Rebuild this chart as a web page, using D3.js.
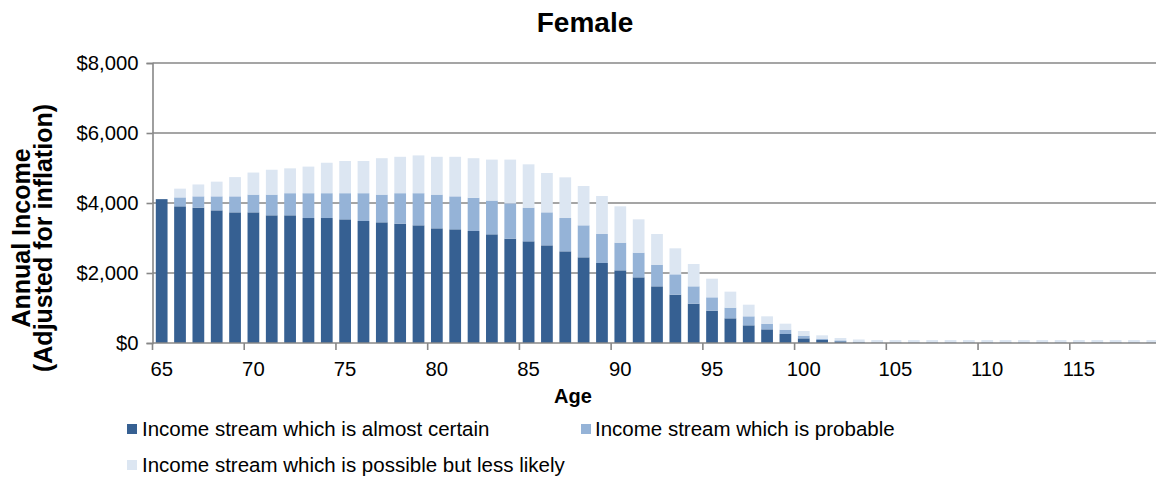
<!DOCTYPE html>
<html>
<head>
<meta charset="utf-8">
<script src="https://cdn.jsdelivr.net/npm/d3@7/dist/d3.min.js"></script>
<style>
  html, body { margin: 0; padding: 0; background: #fff; }
  svg { display: block; font-family: "Liberation Sans", Arial, sans-serif; }
</style>
</head>
<body>
<svg id="chart" width="1156" height="477"></svg>
<script>
// Ages shown on the category axis (65 .. 119)
const ages = d3.range(65, 120);

// Annual income by age, in dollars, for each stream (stacked bottom to top)
const almostCertain = [
  4110, 3905, 3867, 3790, 3733, 3733, 3648, 3648, 3571, 3571,
  3533, 3486, 3448, 3410, 3362, 3276, 3248, 3200, 3105, 2981,
  2905, 2790, 2619, 2448, 2286, 2076, 1876, 1619, 1381, 1124,
  924, 705, 505, 390, 257, 133, 86, 48, 15, 0,
  0, 0, 0, 0, 0, 0, 0, 0, 0, 0,
  0, 0, 0, 0, 0
];
const probable = [
  0, 255, 323, 400, 457, 507, 592, 632, 709, 709,
  747, 794, 792, 870, 918, 964, 942, 950, 965, 1009,
  962, 943, 952, 914, 828, 791, 705, 619, 581, 495,
  381, 305, 257, 162, 124, 77, 38, 28, 25, 20,
  20, 20, 20, 20, 20, 20, 20, 20, 20, 20,
  20, 20, 20, 20, 20
];
const possible = [
  0, 250, 340, 420, 550, 630, 710, 710, 760, 870,
  920, 920, 1040, 1040, 1080, 1080, 1130, 1130, 1170, 1250,
  1238, 1124, 1162, 1124, 1086, 1038, 952, 876, 743, 638,
  533, 457, 333, 210, 171, 133, 95, 67, 60, 65,
  65, 65, 65, 65, 65, 65, 65, 65, 65, 65,
  65, 65, 65, 65, 65
];

const seriesNames = [
  "Income stream which is almost certain",
  "Income stream which is probable",
  "Income stream which is possible but less likely"
];
const seriesColors = ["#366092", "#95B3D7", "#DCE6F2"];

const yTicks = [0, 2000, 4000, 6000, 8000];
const xLabelAges = [65, 70, 75, 80, 85, 90, 95, 100, 105, 110, 115];

const svg = d3.select("#chart");

const plot = { left: 152.5, right: 1161.5, top: 63, bottom: 343 };

const x = d3.scaleBand()
  .domain(ages)
  .range([plot.left, plot.right])
  .paddingInner(0.36)
  .paddingOuter(0.18);

const y = d3.scaleLinear()
  .domain([0, 8000])
  .range([plot.bottom, plot.top]);

const gridColor = "#878787";

// Horizontal gridlines
svg.append("g")
  .selectAll("line")
  .data(yTicks.filter(d => d > 0))
  .join("line")
  .attr("x1", plot.left)
  .attr("x2", 1156)
  .attr("y1", d => y(d))
  .attr("y2", d => y(d))
  .attr("stroke", gridColor)
  .attr("stroke-width", 1.6);

// Stacked bars
const rows = ages.map((a, i) => ({
  age: a,
  s0: almostCertain[i],
  s1: probable[i],
  s2: possible[i]
}));
const stack = d3.stack().keys(["s0", "s1", "s2"]);
const layers = stack(rows);

svg.append("g")
  .selectAll("g")
  .data(layers)
  .join("g")
  .attr("fill", (d, i) => seriesColors[i])
  .selectAll("rect")
  .data(d => d)
  .join("rect")
  .attr("x", d => x(d.data.age))
  .attr("width", x.bandwidth())
  .attr("y", d => y(d[1]))
  .attr("height", d => Math.max(0, y(d[0]) - y(d[1])));

// Y axis
const yAxis = d3.axisLeft(y)
  .tickValues(yTicks)
  .tickSize(6)
  .tickPadding(8)
  .tickFormat(d => "$" + d3.format(",")(d));

const gy = svg.append("g")
  .attr("transform", `translate(${plot.left},0)`)
  .call(yAxis);
gy.select(".domain").attr("stroke", gridColor).attr("stroke-width", 1.6);
gy.selectAll(".tick line").attr("stroke", gridColor).attr("stroke-width", 1.6);
gy.selectAll(".tick text")
  .attr("font-size", 20.3)
  .attr("fill", "#000")
  .attr("font-family", "Liberation Sans, Arial, sans-serif");

// X axis: baseline, tick marks every 5 categories, labels on category centers
const gx = svg.append("g");
gx.append("line")
  .attr("x1", plot.left)
  .attr("x2", 1156)
  .attr("y1", plot.bottom)
  .attr("y2", plot.bottom)
  .attr("stroke", gridColor)
  .attr("stroke-width", 1.6);

const step = x.step();
const tickEdge = a => x(a) - (step - x.bandwidth()) / 2;

gx.selectAll("line.tick")
  .data(xLabelAges)
  .join("line")
  .attr("class", "tick")
  .attr("x1", d => tickEdge(d))
  .attr("x2", d => tickEdge(d))
  .attr("y1", plot.bottom)
  .attr("y2", plot.bottom + 7)
  .attr("stroke", gridColor)
  .attr("stroke-width", 1.6);

gx.selectAll("text")
  .data(xLabelAges)
  .join("text")
  .attr("x", d => x(d) + x.bandwidth() / 2)
  .attr("y", 376)
  .attr("text-anchor", "middle")
  .attr("font-size", 20.3)
  .attr("fill", "#000")
  .text(d => d);

// Titles
svg.append("text")
  .attr("x", 585)
  .attr("y", 32)
  .attr("text-anchor", "middle")
  .attr("font-size", 28)
  .attr("font-weight", "bold")
  .text("Female");

svg.append("text")
  .attr("x", 573)
  .attr("y", 403)
  .attr("text-anchor", "middle")
  .attr("font-size", 20)
  .attr("font-weight", "bold")
  .text("Age");

const yTitle = svg.append("text")
  .attr("transform", "translate(0,238) rotate(-90)")
  .attr("text-anchor", "middle")
  .attr("font-size", 25)
  .attr("font-weight", "bold");
yTitle.append("tspan").attr("x", 0).attr("y", 30).text("Annual Income");
yTitle.append("tspan").attr("x", 0).attr("y", 52).text("(Adjusted for inflation)");

// Legend
const legendItems = [
  { i: 0, sx: 127, sy: 424, tx: 142, ty: 436 },
  { i: 1, sx: 581, sy: 424, tx: 595, ty: 436 },
  { i: 2, sx: 127, sy: 460, tx: 142, ty: 472 }
];
const lg = svg.append("g")
  .selectAll("g")
  .data(legendItems)
  .join("g");
lg.append("rect")
  .attr("x", d => d.sx)
  .attr("y", d => d.sy)
  .attr("width", 10)
  .attr("height", 10)
  .attr("fill", d => seriesColors[d.i]);
lg.append("text")
  .attr("x", d => d.tx)
  .attr("y", d => d.ty)
  .attr("font-size", 20.5)
  .attr("fill", "#000")
  .text(d => seriesNames[d.i]);
</script>
</body>
</html>
